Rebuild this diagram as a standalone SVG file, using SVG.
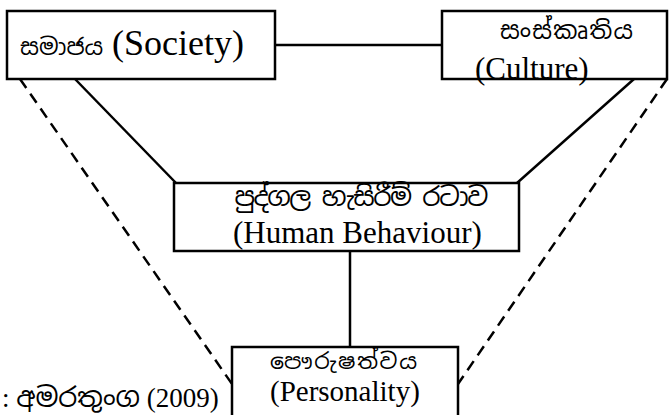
<svg xmlns="http://www.w3.org/2000/svg" width="669" height="415" viewBox="0 0 669 415">
<style>
.box{fill:#fff;stroke:#000;stroke-width:2.5}
.ln{stroke:#000;stroke-width:2.5;fill:none}
.dash{stroke:#000;stroke-width:2.5;fill:none;stroke-dasharray:11 7}
.en{fill:#000}
.si{fill:#000}
</style>
<rect width="669" height="415" fill="#fff"/>
<g id="connectors">
<line class="ln" x1="275" y1="45" x2="442" y2="45"/>
<line class="ln" x1="75" y1="79" x2="176" y2="183"/>
<line class="ln" x1="634" y1="79" x2="517" y2="183"/>
<line class="ln" x1="350" y1="251" x2="350" y2="347"/>
<line class="dash" x1="20" y1="79" x2="232" y2="384"/>
<line class="dash" x1="667" y1="79" x2="458" y2="384"/>
</g>
<g id="society">
<rect class="box" x="7" y="11" width="268" height="68"/>
<text class="si" font-family="Noto Sans Sinhala, Noto Sans, sans-serif" x="20" y="55" font-size="23">සමාජය</text>
<text class="en" font-family="Liberation Serif, Tinos, DejaVu Serif, serif" x="112" y="55" font-size="36">(Society)</text>
</g>
<g id="culture">
<rect class="box" x="442" y="11" width="225" height="68"/>
<text class="si" font-family="Noto Sans Sinhala, Noto Sans, sans-serif" x="500" y="39" font-size="24" textLength="133">සංස්කෘතිය</text>
<text class="en" font-family="Liberation Serif, Tinos, DejaVu Serif, serif" x="475" y="79" font-size="31">(Culture)</text>
</g>
<g id="behaviour">
<rect class="box" x="174" y="183" width="345" height="68"/>
<text class="si" font-family="Noto Sans Sinhala, Noto Sans, sans-serif" x="233" y="206" font-size="26" textLength="254">පුද්ගල හැසිරීම් රටාව</text>
<text class="en" font-family="Liberation Serif, Tinos, DejaVu Serif, serif" x="233" y="243" font-size="31">(Human Behaviour)</text>
</g>
<g id="personality">
<rect class="box" x="232" y="347" width="226" height="72"/>
<text class="si" font-family="Noto Sans Sinhala, Noto Sans, sans-serif" x="270" y="369" font-size="22" textLength="147">පෞරුෂත්වය</text>
<text class="en" font-family="Liberation Serif, Tinos, DejaVu Serif, serif" x="270" y="401" font-size="29">(Personality)</text>
</g>
<g id="citation">
<text class="en" font-family="Liberation Serif, Tinos, DejaVu Serif, serif" x="2" y="407" font-size="27">: <tspan font-family="Noto Sans Sinhala, Noto Sans, sans-serif">අමරතුංග</tspan> (2009)</text>
</g>
</svg>
